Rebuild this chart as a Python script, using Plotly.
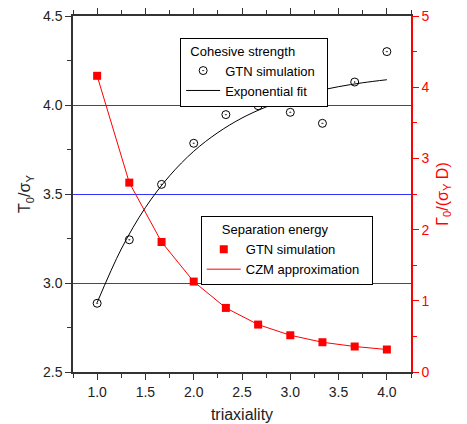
import plotly.graph_objects as go

# data
triax = [1.0, 1.333, 1.667, 2.0, 2.333, 2.667, 3.0, 3.333, 3.667, 4.0]
cohesive_gtn = [2.886, 3.243, 3.554, 3.785, 3.946, 3.996, 3.959, 3.897, 4.129, 4.30]
fit_x = [1.0, 1.25, 1.5, 1.75, 2.0, 2.25, 2.5, 2.75, 3.0, 3.25, 3.5, 3.75, 4.0]
fit_y = [2.89, 3.191, 3.424, 3.602, 3.740, 3.845, 3.927, 3.989, 4.037, 4.074, 4.103, 4.125, 4.142]
energy_gtn = [4.16, 2.66, 1.826, 1.27, 0.90, 0.666, 0.516, 0.418, 0.358, 0.316]

FONT = "Liberation Sans, Arial, sans-serif"
RED = "#ff0000"

fig = go.Figure()
fig.add_trace(go.Scatter(x=triax, y=cohesive_gtn, mode="markers", name="GTN simulation&nbsp;&nbsp;",
                         marker=dict(symbol="circle-open-dot", size=8, color="black", line=dict(width=1)),
                         legend="legend"))
fig.add_trace(go.Scatter(x=fit_x, y=fit_y, mode="lines", name="Exponential fit",
                         line=dict(color="black", width=1, shape="spline"), legend="legend"))
fig.add_trace(go.Scatter(x=triax, y=energy_gtn, mode="markers", name="GTN simulation",
                         marker=dict(symbol="square", size=8, color=RED), yaxis="y2", legend="legend2"))
fig.add_trace(go.Scatter(x=triax, y=energy_gtn, mode="lines", name="CZM approximation&nbsp;&nbsp;",
                         line=dict(color=RED, width=1), yaxis="y2", legend="legend2"))

fig.update_layout(
    width=467, height=424,
    margin=dict(l=73, r=56, t=16, b=52),
    plot_bgcolor="white", paper_bgcolor="white",
    font=dict(family=FONT, size=14, color="#222222"),
    xaxis=dict(range=[0.75, 4.25], dtick=0.5, tick0=0, tickformat=".1f", automargin=False,
               showgrid=False, zeroline=False,
               showline=True, linecolor="#333333", linewidth=1.5, mirror="ticks",
               ticks="outside", ticklen=6, tickcolor="#333333", tickwidth=1.2,
               minor=dict(ticks="outside", dtick=0.25, ticklen=4, tickcolor="#333333", tickwidth=1.2),
               title=dict(text="triaxiality", font=dict(size=16), standoff=10)),
    yaxis=dict(range=[2.5, 4.5], dtick=0.5, tickformat=".1f", automargin=False,
               showgrid=True, gridcolor="#3333ff", gridwidth=1, zeroline=False,
               showline=True, linecolor="#333333", linewidth=1.5,
               ticks="outside", ticklen=6, tickcolor="#333333", tickwidth=1.2,
               minor=dict(ticks="outside", dtick=0.25, ticklen=4, tickcolor="#333333", tickwidth=1.2),
               title=dict(text="T<sub>0</sub>/σ<sub>Y</sub>", font=dict(size=16), standoff=8)),
    yaxis2=dict(range=[0, 5], dtick=1, overlaying="y", side="right", automargin=False,
                showgrid=False, zeroline=False,
                showline=True, linecolor=RED, linewidth=1.5,
                ticks="outside", ticklen=6, tickcolor=RED, tickwidth=1.2,
                tickfont=dict(color=RED, size=14),
                minor=dict(ticks="outside", dtick=0.5, ticklen=4, tickcolor=RED, tickwidth=1.2),
                title=dict(text="Γ<sub>0</sub>/(σ<sub>Y</sub> D)", font=dict(size=16, color=RED), standoff=8)),
    legend=dict(x=0.317, y=0.939, xanchor="left", yanchor="top",
                bordercolor="black", borderwidth=1, bgcolor="white",
                font=dict(size=13, color="black"),
                title=dict(text="&nbsp;&nbsp;Cohesive strength", font=dict(size=13, color="black")),
                tracegroupgap=0, itemwidth=34),
    legend2=dict(x=0.378, y=0.437, xanchor="left", yanchor="top",
                 bordercolor="black", borderwidth=1, bgcolor="white",
                 font=dict(size=13, color="black"),
                 title=dict(text="&nbsp;&nbsp;&nbsp;&nbsp;&nbsp;Separation energy", font=dict(size=13, color="black")),
                 tracegroupgap=0, itemwidth=34),
)

fig.write_html("out.html")
